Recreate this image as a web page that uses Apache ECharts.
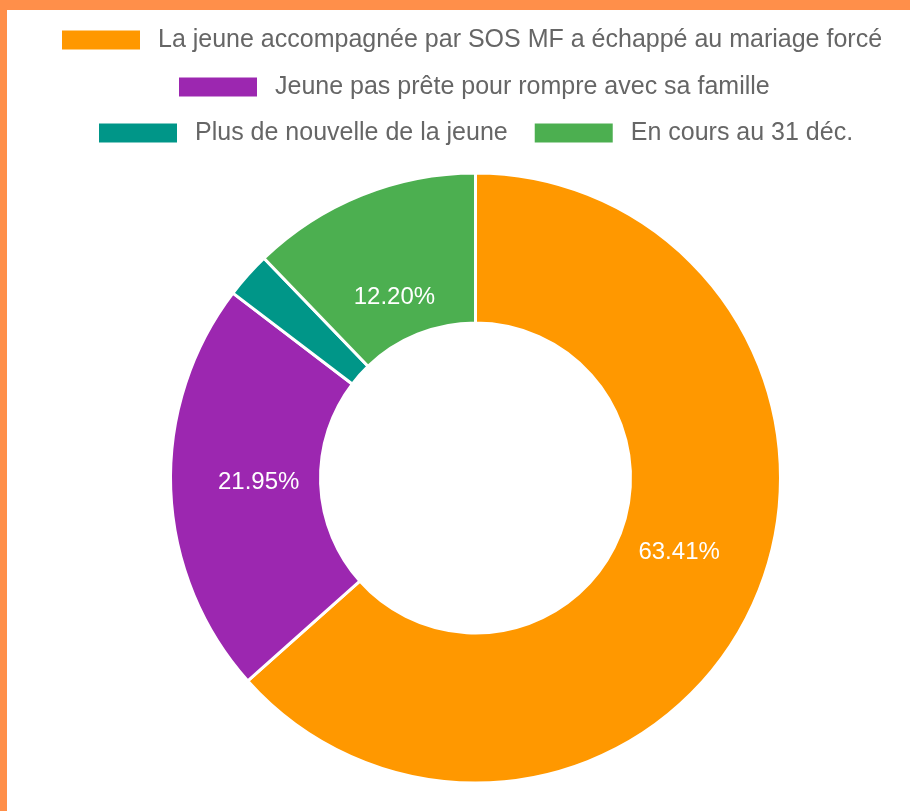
<!DOCTYPE html>
<html>
<head>
<meta charset="utf-8">
<script src="https://cdn.jsdelivr.net/npm/echarts@6/dist/echarts.min.js"></script>
<style>
  html, body { margin: 0; padding: 0; width: 910px; height: 811px; background: #FF8F4A; overflow: hidden; }
  #chart { position: absolute; left: 7px; top: 10px; width: 903px; height: 801px; background: #ffffff; }
</style>
</head>
<body>
<div id="chart"></div>
<script>
const categories = [
  "La jeune accompagnée par SOS MF a échappé au mariage forcé",
  "Jeune pas prête pour rompre avec sa famille",
  "Plus de nouvelle de la jeune",
  "En cours au 31 déc."
];
const counts = [26, 9, 1, 5];
const colors = ["#FF9800", "#9C27B0", "#009688", "#4CAF50"];
const showLabel = [true, true, false, true];
const labelOffsets = [[-9, -21], [16, -5], [0, 0], [6, 35]];

const chart = echarts.init(document.getElementById('chart'), null, { renderer: 'canvas' });

const legendText = {
  color: '#666666',
  fontFamily: 'Liberation Sans, Arial, sans-serif',
  fontSize: 25,
  lineHeight: 30,
  padding: [0, 0, 0, 12]
};
const legendBase = {
  orient: 'horizontal',
  icon: 'rect',
  itemWidth: 80,
  itemHeight: 21,
  itemGap: 25,
  padding: 0,
  selectedMode: false,
  textStyle: legendText
};

chart.setOption({
  animation: false,
  color: colors,
  legend: [
    Object.assign({}, legendBase, { data: [categories[0]], left: 53, top: 15 }),
    Object.assign({}, legendBase, { data: [categories[1]], left: 170, top: 62 }),
    Object.assign({}, legendBase, { data: [categories[2], categories[3]], left: 90, top: 108 })
  ],
  series: [{
    type: 'pie',
    center: [468.5, 468],
    radius: [155, 305],
    startAngle: 90,
    clockwise: true,
    avoidLabelOverlap: false,
    itemStyle: { borderColor: '#ffffff', borderWidth: 3 },
    label: {
      position: 'inside',
      color: '#ffffff',
      fontFamily: 'Liberation Sans, Arial, sans-serif',
      fontSize: 24,
      formatter: function (p) { return p.percent.toFixed(2) + '%'; }
    },
    labelLine: { show: false },
    emphasis: { disabled: true },
    data: categories.map(function (c, i) {
      return {
        name: c,
        value: counts[i],
        itemStyle: { color: colors[i] },
        label: { show: showLabel[i], offset: labelOffsets[i] }
      };
    })
  }]
});
</script>
</body>
</html>
